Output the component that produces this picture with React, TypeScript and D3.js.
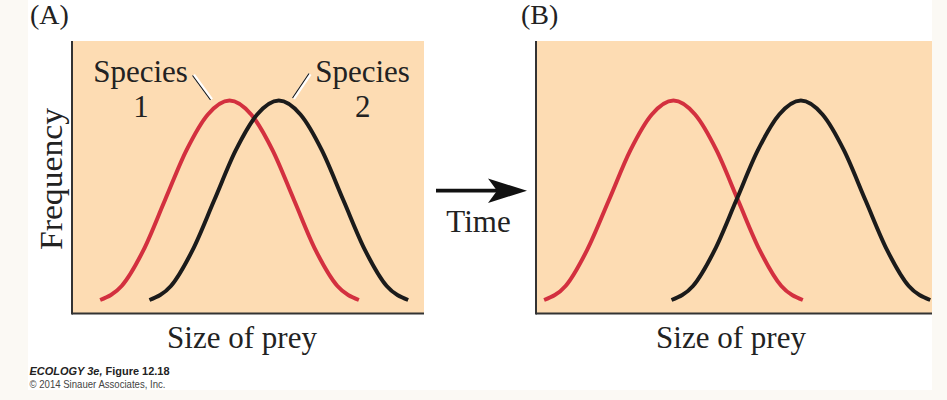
import React from "react";
import * as d3 from "d3";

// frequency (same bell shape for every species curve)
const frequency = [0, 0.07, 0.25, 0.5, 0.75, 0.93, 1, 0.93, 0.75, 0.5, 0.25, 0.07, 0];

// size of prey (arbitrary units) for each curve
const sizeA1 = [8, 14.1, 20.3, 26.4, 32.5, 38.6, 44.75, 50.9, 57, 63.1, 69.2, 75.4, 81.5];
const sizeA2 = [22, 28.1, 34.25, 40.4, 46.5, 52.6, 58.75, 64.9, 71, 77.1, 83.25, 89.4, 95.5];
const sizeB1 = [2.3, 8.4, 14.5, 20.7, 26.8, 32.9, 39.05, 45.2, 51.3, 57.4, 63.55, 69.7, 75.8];
const sizeB2 = [38.5, 44.6, 50.75, 56.9, 63, 69.1, 75.25, 81.4, 87.5, 93.6, 99.75, 105.9, 112];

const panelLabels = ["(A)", "(B)"];
const speciesLabels = ["1", "2"];

const W = 947;
const H = 400;
const RED = "#d3303f";
const BLACK = "#1b1b1b";
const PEACH = "#fddcb3";
const SERIF = "'Liberation Serif', 'Times New Roman', serif";
const SANS = "'Liberation Sans', Arial, sans-serif";

const top = 41;
const bottom = 313.5;

const yScale = d3.scaleLinear().domain([0, 1]).range([300, 100.5]);

const panels = [
  {
    label: panelLabels[0],
    xScale: d3.scaleLinear().domain([0, 100]).range([72, 424]),
    curves: [
      { size: sizeA1, color: RED },
      { size: sizeA2, color: BLACK },
    ],
    labelX: 30,
    titleX: 242,
  },
  {
    label: panelLabels[1],
    xScale: d3.scaleLinear().domain([0, 112.5]).range([536, 932]),
    curves: [
      { size: sizeB1, color: RED },
      { size: sizeB2, color: BLACK },
    ],
    labelX: 521,
    titleX: 731,
  },
];

export default function App() {
  return (
    <svg
      width={W}
      height={H}
      style={{ position: "absolute", left: 0, top: 0, background: "#fbf9f4" }}
    >
      <rect x={28} y={0} width={904} height={390} fill="#ffffff" />

      {panels.map((p) => {
        const [x0, x1] = p.xScale.range();
        const line = d3
          .line<number>()
          .x((d) => p.xScale(d))
          .y((_, i) => yScale(frequency[i]))
          .curve(d3.curveMonotoneX);
        return (
          <g key={p.label}>
            <rect x={x0} y={top} width={x1 - x0} height={bottom - top} fill={PEACH} />
            {p.curves.map((c, i) => (
              <path
                key={i}
                d={line(c.size) || ""}
                fill="none"
                stroke={c.color}
                strokeWidth={4}
              />
            ))}
            <line x1={x0} x2={x0} y1={top} y2={bottom + 1} stroke="#333" strokeWidth={2} />
            <line x1={x0} x2={x1} y1={bottom} y2={bottom} stroke="#333" strokeWidth={2} />
            <text x={p.labelX} y={24} fontFamily={SERIF} fontSize={28} fill="#222">
              {p.label}
            </text>
            <text
              x={p.titleX}
              y={348}
              textAnchor="middle"
              fontFamily={SERIF}
              fontSize={31}
              fill="#222"
            >
              Size of prey
            </text>
          </g>
        );
      })}

      {/* species labels with leader lines */}
      <g fontFamily={SERIF} fontSize={31} fill="#222" textAnchor="middle">
        <text x={140.5} y={82}>Species</text>
        <text x={141} y={117}>{speciesLabels[0]}</text>
        <text x={362.5} y={82}>Species</text>
        <text x={362.7} y={117}>{speciesLabels[1]}</text>
      </g>
      <g>
        <line x1={193.5} y1={75} x2={211.5} y2={99.5} stroke="#fff" strokeWidth={3.5} />
        <line x1={192.5} y1={75.5} x2={210.5} y2={100} stroke="#111" strokeWidth={1.1} />
        <line x1={310} y1={74} x2={293.5} y2={98.5} stroke="#fff" strokeWidth={3.5} />
        <line x1={309} y1={73.5} x2={292.5} y2={98} stroke="#111" strokeWidth={1.1} />
      </g>

      {/* y axis title */}
      <text
        transform="translate(62,179) rotate(-90)"
        textAnchor="middle"
        fontFamily={SERIF}
        fontSize={32}
        fill="#222"
        textLength={142}
        lengthAdjust="spacingAndGlyphs"
      >
        Frequency
      </text>

      {/* time arrow */}
      <line x1={436} x2={500} y1={190.7} y2={190.7} stroke="#111" strokeWidth={3.8} />
      <path d="M527,190.7 L488,178.5 L497,190.7 L488,203 Z" fill="#111" />
      <text
        x={478.5}
        y={231.5}
        textAnchor="middle"
        fontFamily={SERIF}
        fontSize={31}
        fill="#222"
      >
        Time
      </text>

      {/* credit */}
      <text
        x={29.5}
        y={375}
        fontFamily={SANS}
        fontSize={11.5}
        fill="#222"
        textLength={140}
        lengthAdjust="spacingAndGlyphs"
      >
        <tspan fontWeight="bold" fontStyle="italic">ECOLOGY 3e, </tspan>
        <tspan fontWeight="bold">Figure 12.18</tspan>
      </text>
      <text
        x={29.5}
        y={388}
        fontFamily={SANS}
        fontSize={11}
        fill="#444"
        textLength={136}
        lengthAdjust="spacingAndGlyphs"
      >
        © 2014 Sinauer Associates, Inc.
      </text>
    </svg>
  );
}
